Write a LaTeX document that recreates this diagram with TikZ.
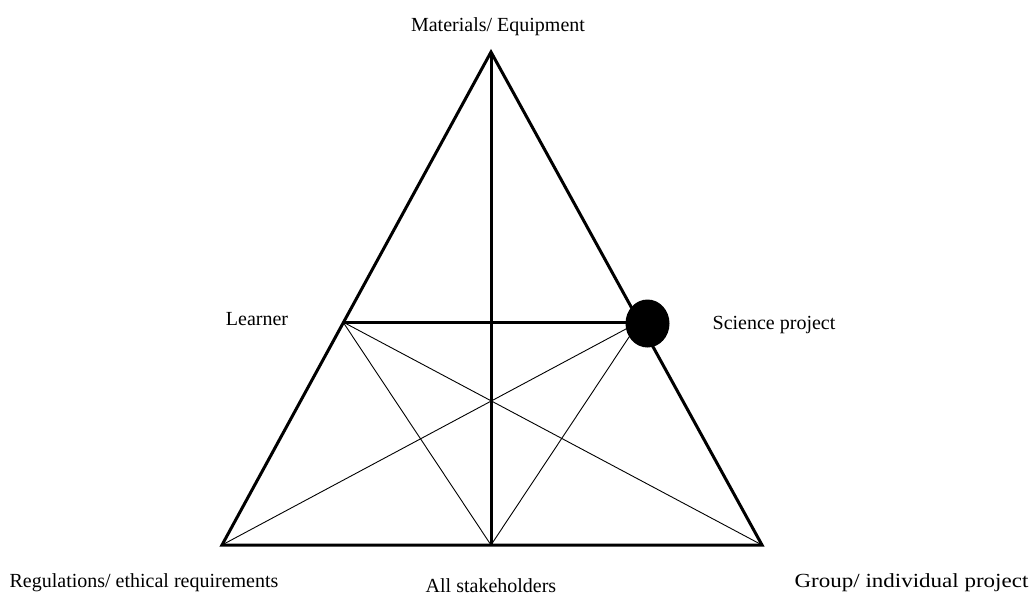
\documentclass[tikz,border=0pt]{standalone}
\usepackage{fontspec}
\setmainfont{Liberation Serif}
\begin{document}
\begin{tikzpicture}[x=1pt,y=-1pt,
  thickline/.style={line width=3pt},
  thinline/.style={line width=0.9pt},
  lbl/.style={font=\fontsize{20}{24}\selectfont, inner sep=0pt}]
\useasboundingbox (0,0) rectangle (1029,595);
\coordinate (T) at (491,52);
\coordinate (BL) at (222,545);
\coordinate (BR) at (762,545);
\coordinate (BM) at (491,545);
\coordinate (L) at (343,322);
\coordinate (S) at (639,322);
\draw[thinline] (L) -- (BM);
\draw[thinline] (L) -- (BR);
\draw[thinline] (S) -- (BL);
\draw[thinline] (S) -- (BM);
\draw[thickline, line join=miter] (T) -- (BL) -- (BR) -- cycle;
\draw[thickline] (T) -- (BM);
\draw[thickline] (L) -- (S);
\fill (647.5,323.5) ellipse [x radius=22, y radius=24];
\node[lbl] (mat) at (498,27) {Materials/ Equipment};
\node[lbl] (lea) at (257,319) {Learner};
\node[lbl] (sci) at (774,325) {Science project};
\node[lbl] (reg) at (144,583) {Regulations/ ethical requirements};
\node[lbl] (all) at (491,585.5) {All stakeholders};
\node[lbl] (grp) at (911.5,583) {\scalebox{1.15}[1]{Group/ individual project}};
\end{tikzpicture}
\end{document}
